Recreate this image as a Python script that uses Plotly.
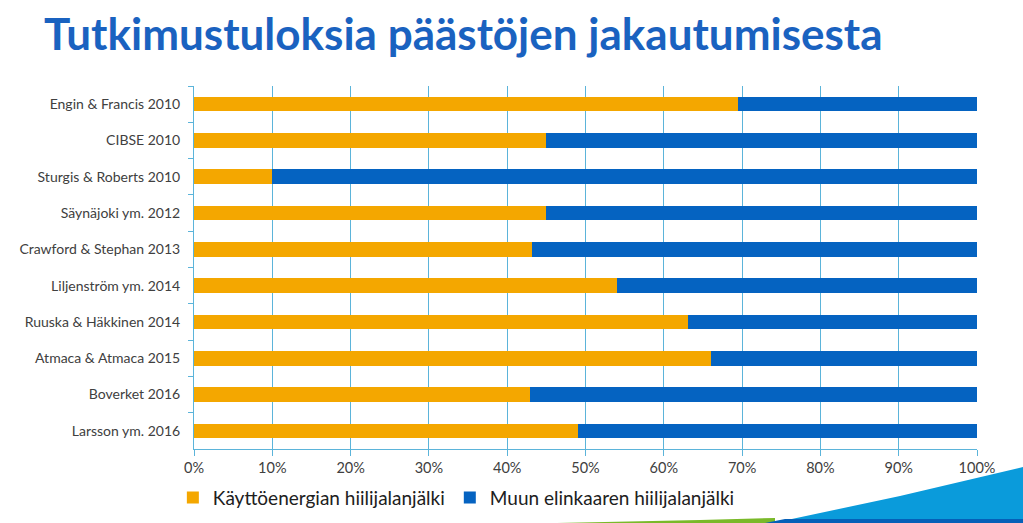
import plotly.graph_objects as go

studies = ["Engin & Francis 2010", "CIBSE 2010", "Sturgis & Roberts 2010", "Säynäjoki ym. 2012",
           "Crawford & Stephan 2013", "Liljenström ym. 2014", "Ruuska & Häkkinen 2014",
           "Atmaca & Atmaca 2015", "Boverket 2016", "Larsson ym. 2016"]
kaytto = [69.5, 45, 10, 45, 43.2, 54, 63.1, 66, 42.9, 49]
muu = [100 - v for v in kaytto]
tick_vals = [0, 10, 20, 30, 40, 50, 60, 70, 80, 90, 100]
tick_text = [f"{v}%" for v in tick_vals]

ORANGE = "#F4A700"
BLUE = "#0563C1"
GRID = "#5BB4DA"
TXT = "#404040"

W, H = 1023, 523
L, R, T, B = 194, 46, 86, 74
pw, ph = W - L - R, H - T - B

def px(x):
    return (x - L) / pw

def py(y):
    return (H - B - y) / ph

fig = go.Figure()
fig.add_trace(go.Bar(y=studies, x=kaytto, orientation="h", name="Käyttöenergian hiilijalanjälki",
                     marker=dict(color=ORANGE, line=dict(width=0))))
fig.add_trace(go.Bar(y=studies, x=muu, orientation="h", name="Muun elinkaaren hiilijalanjälki",
                     marker=dict(color=BLUE, line=dict(width=0))))

# decorative wave in bottom-right corner
fig.add_shape(type="path", xref="paper", yref="paper", layer="below",
              path=f"M {px(557)} {py(523)} L {px(700)} {py(520)} L {px(775)} {py(518)} L {px(775)} {py(523)} Z",
              fillcolor="#7AB929", line=dict(width=0))
fig.add_shape(type="path", xref="paper", yref="paper", layer="below",
              path=f"M {px(773)} {py(523)} L {px(900)} {py(496)} L {px(1023)} {py(467)} L {px(1023)} {py(523)} Z",
              fillcolor="#0A9BDB", line=dict(width=0))
fig.add_shape(type="path", xref="paper", yref="paper", layer="below",
              path=f"M {px(765)} {py(523)} L {px(785)} {py(519)} L {px(1023)} {py(519)} L {px(1023)} {py(523)} Z",
              fillcolor="#0560B8", line=dict(width=0))

fig.update_layout(
    width=W, height=H,
    margin=dict(l=L, r=R, t=T, b=B, autoexpand=False),
    paper_bgcolor="white", plot_bgcolor="white",
    barmode="stack", bargap=0.6,
    title=dict(text="<b>Tutkimustuloksia päästöjen jakautumisesta</b>", x=44 / W, xanchor="left",
               y=1 - 35 / H, yanchor="middle",
               font=dict(family="Lato", size=44, color="#1A62C0")),
    font=dict(family="Lato", color=TXT),
    legend=dict(orientation="h", x=-0.027, xanchor="left", y=-0.082, yanchor="top",
                font=dict(size=19, color="#202020"), itemwidth=30, traceorder="normal",
                bgcolor="rgba(0,0,0,0)"),
    xaxis=dict(range=[0, 100], tickvals=tick_vals, ticktext=tick_text, showgrid=True,
               gridcolor=GRID, gridwidth=1, showline=True, linecolor=GRID, linewidth=1,
               ticks="outside", ticklen=6, tickcolor=GRID, tickfont=dict(size=14.5, color=TXT),
               zeroline=False, fixedrange=True),
    yaxis=dict(categoryorder="array", categoryarray=studies, autorange="reversed",
               tickson="boundaries", ticks="outside", ticklen=5, tickcolor=GRID,
               showline=True, linecolor=GRID, linewidth=1, showgrid=False,
               tickfont=dict(size=14, color=TXT), ticklabelstandoff=10, fixedrange=True),
    showlegend=True,
)

fig.write_html("out.html", config={"displayModeBar": False},
               post_script="document.body.style.margin='0';document.body.style.overflow='hidden';")
